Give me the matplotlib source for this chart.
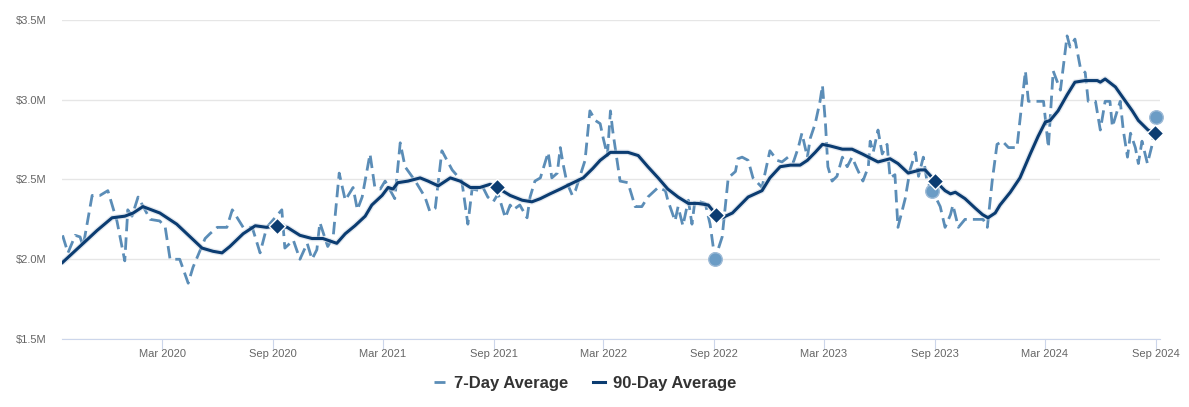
import numpy as np
import pandas as pd
import matplotlib
matplotlib.use('Agg')
import matplotlib.pyplot as plt
import matplotlib.dates as mdates
from matplotlib.ticker import FuncFormatter
from matplotlib.lines import Line2D

plt.rcParams['font.family'] = ['Liberation Sans', 'DejaVu Sans']

# values in $M, dates given as days since the first day of the series
start = pd.Timestamp('2019-09-17')

days_7d = [1, 10, 22, 30, 35, 50, 63, 76, 91, 104, 109, 116, 126, 146, 162, 171, 179, 195,
           209, 217, 237, 245, 257, 273, 282, 300, 315, 328, 339, 364, 369, 383, 394, 406,
           414, 422, 427, 440, 449, 459, 469, 482, 489, 497, 510, 518, 527, 535, 551, 560,
           568, 585, 601, 609, 618, 629, 646, 662, 672, 679, 692, 697, 705, 714, 722, 734,
           742, 747, 758, 770, 775, 783, 792, 805, 811, 820, 825, 830, 836, 845, 850, 866,
           874, 883, 891, 896, 903, 908, 912, 919, 924, 937, 949, 960, 970, 987, 999, 1003,
           1015, 1020, 1028, 1037, 1043, 1048, 1065, 1073, 1081, 1093, 1103, 1115, 1119,
           1126, 1136, 1144, 1159, 1164, 1172, 1184, 1192, 1202, 1211, 1219, 1225, 1234,
           1239, 1247, 1255, 1259, 1264, 1268, 1275, 1283, 1292, 1300, 1308, 1316, 1326,
           1335, 1338, 1343, 1351, 1358, 1366, 1371, 1379, 1384, 1396, 1404, 1413, 1418,
           1426, 1432, 1441, 1454, 1462, 1471, 1475, 1484, 1495, 1512, 1525, 1532, 1540,
           1548, 1557, 1567, 1581, 1595, 1600, 1625, 1633, 1641, 1653, 1664, 1669, 1677,
           1686, 1694, 1699, 1711, 1719, 1727, 1735, 1739, 1747, 1752, 1757, 1764, 1769,
           1777, 1782, 1788, 1797, 1805, 1812]
avg_7d = [2.15, 2.04, 2.15, 2.14, 2.08, 2.40, 2.40, 2.43, 2.24, 1.99, 2.31, 2.27, 2.39, 2.25,
          2.24, 2.20, 2.00, 2.00, 1.85, 1.95, 2.13, 2.16, 2.20, 2.20, 2.31, 2.20, 2.20, 2.04,
          2.20, 2.31, 2.07, 2.12, 2.00, 2.10, 2.00, 2.06, 2.23, 2.08, 2.14, 2.54, 2.37, 2.45,
          2.31, 2.39, 2.66, 2.45, 2.44, 2.49, 2.38, 2.73, 2.58, 2.49, 2.39, 2.30, 2.32, 2.68,
          2.56, 2.49, 2.22, 2.44, 2.43, 2.45, 2.39, 2.36, 2.41, 2.26, 2.34, 2.31, 2.34, 2.26,
          2.39, 2.49, 2.51, 2.67, 2.51, 2.54, 2.70, 2.59, 2.48, 2.40, 2.43, 2.62, 2.93, 2.87,
          2.85, 2.76, 2.65, 2.93, 2.80, 2.62, 2.49, 2.48, 2.33, 2.33, 2.39, 2.45, 2.43, 2.37,
          2.24, 2.33, 2.21, 2.37, 2.22, 2.37, 2.35, 2.22, 2.00, 2.14, 2.51, 2.55, 2.63, 2.64,
          2.62, 2.51, 2.45, 2.54, 2.68, 2.62, 2.61, 2.64, 2.61, 2.70, 2.79, 2.64, 2.76, 2.85,
          2.99, 3.09, 2.85, 2.58, 2.49, 2.52, 2.64, 2.58, 2.64, 2.57, 2.49, 2.58, 2.74, 2.67,
          2.81, 2.66, 2.72, 2.51, 2.53, 2.20, 2.38, 2.56, 2.67, 2.52, 2.64, 2.49, 2.43, 2.33,
          2.20, 2.28, 2.34, 2.20, 2.25, 2.25, 2.25, 2.20, 2.49, 2.72, 2.74, 2.70, 2.70, 3.18,
          2.99, 2.99, 2.70, 3.18, 3.06, 3.40, 3.33, 3.38, 3.20, 3.17, 2.99, 2.99, 2.81, 2.99,
          2.99, 2.83, 2.93, 2.99, 2.81, 2.64, 2.79, 2.70, 2.60, 2.74, 2.60, 2.72, 2.89]

days_90d = [1, 41, 58, 83, 104, 118, 134, 162, 190, 232, 250, 265, 278, 300, 320, 339, 356,
            373, 394, 414, 432, 455, 469, 485, 502, 513, 530, 540, 548, 556, 573, 593, 606,
            623, 643, 659, 676, 692, 709, 720, 742, 762, 778, 792, 808, 825, 841, 863, 879,
            891, 908, 937, 954, 970, 987, 1003, 1020, 1037, 1053, 1070, 1083, 1093, 1110,
            1123, 1136, 1159, 1172, 1189, 1206, 1222, 1234, 1247, 1259, 1272, 1292, 1308,
            1325, 1351, 1371, 1384, 1401, 1421, 1429, 1446, 1462, 1471, 1479, 1495, 1512,
            1524, 1533, 1545, 1553, 1570, 1586, 1603, 1616, 1628, 1636, 1649, 1664, 1677,
            1694, 1714, 1719, 1727, 1744, 1757, 1772, 1782, 1798, 1810]
avg_90d = [1.98, 2.12, 2.18, 2.26, 2.27, 2.29, 2.33, 2.29, 2.22, 2.07, 2.05, 2.04, 2.08, 2.16,
           2.21, 2.20, 2.21, 2.20, 2.15, 2.13, 2.13, 2.10, 2.16, 2.21, 2.27, 2.34, 2.40, 2.45,
           2.44, 2.48, 2.49, 2.51, 2.49, 2.46, 2.51, 2.49, 2.45, 2.45, 2.47, 2.45, 2.40, 2.37,
           2.36, 2.38, 2.41, 2.44, 2.47, 2.51, 2.57, 2.62, 2.67, 2.67, 2.65, 2.58, 2.51, 2.44,
           2.39, 2.35, 2.35, 2.34, 2.28, 2.26, 2.29, 2.34, 2.39, 2.43, 2.51, 2.58, 2.59, 2.59,
           2.62, 2.67, 2.72, 2.71, 2.69, 2.69, 2.66, 2.61, 2.63, 2.60, 2.54, 2.56, 2.56, 2.49,
           2.43, 2.41, 2.42, 2.38, 2.32, 2.28, 2.26, 2.29, 2.34, 2.42, 2.51, 2.66, 2.77, 2.86,
           2.87, 2.93, 3.03, 3.11, 3.12, 3.12, 3.11, 3.13, 3.08, 3.01, 2.93, 2.87, 2.81, 2.79]

# highlighted points (early September of each year)
mark_days_90d = [356, 720, 1083, 1446, 1810]
mark_vals_90d = [2.21, 2.45, 2.28, 2.49, 2.79]
mark_days_7d = [1081, 1441, 1812]
mark_vals_7d = [2.00, 2.43, 2.89]

tick_months = ['2020-03-01', '2020-09-01', '2021-03-01', '2021-09-01', '2022-03-01',
               '2022-09-01', '2023-03-01', '2023-09-01', '2024-03-01', '2024-09-01']

to_dates = lambda d: start + pd.to_timedelta(d, unit='D')

c7 = '#5b8db7'
c90 = '#0b3c71'

fig = plt.figure(figsize=(11.89, 4.07), dpi=100)
ax = fig.add_axes([0.0521, 0.167, 0.9236, 0.784])

ax.plot(to_dates(days_7d), avg_7d, color=c7, lw=2.0, dashes=(4.5, 2.2), zorder=2)
ax.plot(to_dates(days_90d), avg_90d, color='#c8d3e0', lw=4.0, alpha=0.5, zorder=2.5,
        solid_capstyle='round')
ax.plot(to_dates(days_90d), avg_90d, color=c90, lw=2.2, zorder=3, solid_joinstyle='round')

ax.scatter(to_dates(mark_days_7d), mark_vals_7d, s=95, color='#6b9cc5', edgecolor='#9dbad6',
           linewidth=1, zorder=4, clip_on=False)
ax.scatter(to_dates(mark_days_90d), mark_vals_90d, s=70, marker='D', color=c90,
           edgecolor='white', linewidth=1, zorder=5, clip_on=False)

ax.set_ylim(1.5, 3.5)
ax.set_yticks([1.5, 2.0, 2.5, 3.0, 3.5])
ax.yaxis.set_major_formatter(FuncFormatter(lambda v, p: f'${v:.1f}M'))
ax.set_xlim(start, to_dates(1818))
ax.set_xticks(pd.to_datetime(tick_months))
ax.xaxis.set_major_formatter(mdates.DateFormatter('%b %Y'))

ax.grid(axis='y', color='#e6e6e6', lw=1)
ax.set_axisbelow(True)
for s in ['top', 'right', 'left']:
    ax.spines[s].set_visible(False)
ax.spines['bottom'].set_color('#ccd6eb')
ax.tick_params(axis='y', length=0, pad=11, labelsize=8, labelcolor='#666666')
ax.tick_params(axis='x', length=7, color='#ccd6eb', labelsize=8, labelcolor='#666666', pad=0)

handles = [Line2D([], [], color=c7, lw=2.0, dashes=(4.5, 2.2)),
           Line2D([], [], color=c90, lw=2.2)]
fig.legend(handles, ['7-Day Average', '90-Day Average'], loc='center',
           bbox_to_anchor=(0.492, 0.058), ncol=2, frameon=False, handlelength=0.7,
           handletextpad=0.5, columnspacing=1.5,
           prop={'size': 12, 'weight': 'bold'}, labelcolor='#333333')

fig.savefig('out.png', dpi=100)
